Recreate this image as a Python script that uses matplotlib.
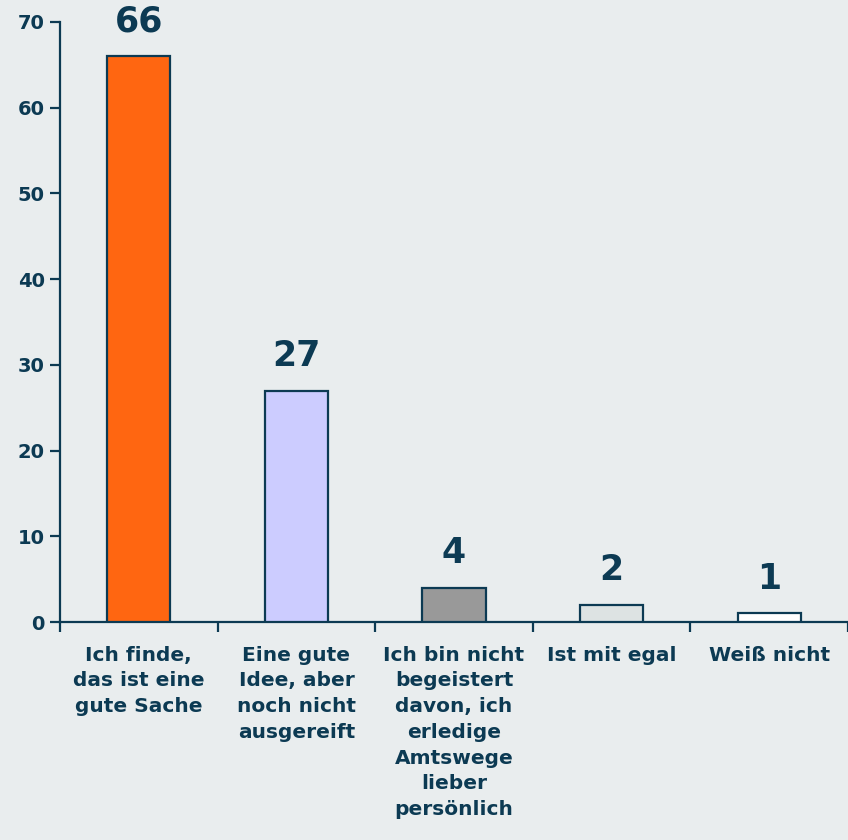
import matplotlib.pyplot as plt

categories = [
    "Ich finde,\ndas ist eine\ngute Sache",
    "Eine gute\nIdee, aber\nnoch nicht\nausgereift",
    "Ich bin nicht\nbegeistert\ndavon, ich\nerledige\nAmtswege\nlieber\npersönlich",
    "Ist mit egal",
    "Weiß nicht",
]
values = [66, 27, 4, 2, 1]
colors = ["#FF6611", "#CCCCFF", "#999999", "#DDE3E3", "#FFFFFF"]

navy = "#0C3A53"
bg = "#E9EDEE"

fig = plt.figure(figsize=(8.48, 8.4), dpi=100, facecolor=bg)
ax = fig.add_axes([60 / 848, 218 / 840, 788 / 848, 600 / 840], facecolor=bg)

x = range(len(values))
bars = ax.bar(x, values, width=0.4, color=colors, edgecolor=navy, linewidth=1.6, zorder=3)

for xi, v in zip(x, values):
    ax.annotate(str(v), (xi, v), xytext=(0, 12.5), textcoords="offset points",
                ha="center", va="bottom", fontsize=25, fontweight="bold", color=navy)

ax.set_xlim(-0.5, len(values) - 0.5)
ax.set_ylim(0, 70)
ax.set_yticks(range(0, 71, 10))

# ticks on category borders, labels at category centres
ax.set_xticks([i - 0.5 for i in range(len(values) + 1)])
ax.set_xticklabels([])
ax.set_xticks(list(x), minor=True)
ax.set_xticklabels(categories, minor=True, fontsize=14.5, fontweight="bold",
                   color=navy, linespacing=1.45, ha="center", va="top")
ax.tick_params(axis="x", which="major", length=7, width=1.6, color=navy, direction="out")
ax.tick_params(axis="x", which="minor", length=0, pad=17)
ax.tick_params(axis="y", length=7, width=1.6, color=navy, labelcolor=navy,
               labelsize=14, pad=4)
for lab in ax.get_yticklabels():
    lab.set_fontweight("bold")

for s in ["top", "right"]:
    ax.spines[s].set_visible(False)
for s in ["left", "bottom"]:
    ax.spines[s].set_color(navy)
    ax.spines[s].set_linewidth(1.6)

fig.savefig("out.png", dpi=100, facecolor=bg)
